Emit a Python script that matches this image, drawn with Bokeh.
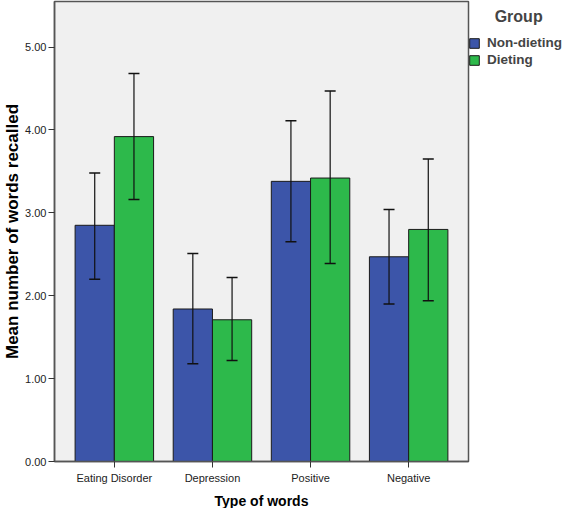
from bokeh.plotting import figure
from bokeh.models import (ColumnDataSource, Whisker, FixedTicker, Legend, LegendItem,
                          Range1d, NumeralTickFormatter)
from bokeh.embed import file_html
from bokeh.resources import INLINE

categories = ["Eating Disorder", "Depression", "Positive", "Negative"]
groups = ["Non-dieting", "Dieting"]
non_dieting_mean = [2.85, 1.84, 3.38, 2.47]
non_dieting_lower = [2.20, 1.18, 2.65, 1.90]
non_dieting_upper = [3.48, 2.51, 4.11, 3.04]
dieting_mean = [3.92, 1.71, 3.42, 2.80]
dieting_lower = [3.16, 1.22, 2.39, 1.94]
dieting_upper = [4.68, 2.22, 4.47, 3.65]
y_ticks = [0, 1, 2, 3, 4, 5]

colors = ["#3C55A9", "#2DB94B"]
offsets = [-0.2, 0.2]
bar_w = 0.4

FONT = "Liberation Sans"

p = figure(frame_width=414, frame_height=460, output_backend="svg", toolbar_location=None,
           x_range=Range1d(-0.61, 3.61), y_range=Range1d(0, 5.55),
           min_border_left=40, min_border_top=1, min_border_bottom=30, min_border_right=5)
p.background_fill_color = "#F0F0F0"
p.border_fill_color = "white"
p.outline_line_color = "#555555"
p.outline_line_width = 1.5
p.xgrid.visible = False
p.ygrid.visible = False

renderers = []
for g, means, lows, ups, col, off in [
        (groups[0], non_dieting_mean, non_dieting_lower, non_dieting_upper, colors[0], offsets[0]),
        (groups[1], dieting_mean, dieting_lower, dieting_upper, colors[1], offsets[1])]:
    src = ColumnDataSource(dict(x=[i + off for i in range(len(categories))], top=means,
                                lower=lows, upper=ups))
    r = p.vbar(x="x", top="top", width=bar_w, bottom=0, source=src, fill_color=col,
               line_color="#1a1a1a", line_width=1)
    renderers.append((g, r))
    w = Whisker(base="x", lower="lower", upper="upper", source=src, line_color="#111111",
                line_width=1.2, level="overlay")
    w.upper_head.size = 11
    w.lower_head.size = 11
    w.upper_head.line_color = "#111111"
    w.lower_head.line_color = "#111111"
    w.upper_head.line_width = 1.5
    w.lower_head.line_width = 1.5
    p.add_layout(w)

# axes
p.xaxis.ticker = FixedTicker(ticks=list(range(len(categories))))
p.xaxis.major_label_overrides = {i: c for i, c in enumerate(categories)}
p.xaxis.axis_label = "Type of words"
p.yaxis.ticker = FixedTicker(ticks=y_ticks)
p.yaxis.formatter = NumeralTickFormatter(format="0.00")
p.yaxis.axis_label = "Mean number of words recalled"
for ax in (p.xaxis, p.yaxis):
    ax.major_label_text_font = FONT
    ax.major_label_text_font_size = "11px"
    ax.major_label_text_color = "#222222"
    ax.axis_label_text_font = FONT
    ax.axis_label_text_font_size = "14px"
    ax.axis_label_text_font_style = "bold"
    ax.axis_label_text_color = "#000000"
    ax.axis_line_color = "#555555"
    ax.axis_line_width = 1.5
    ax.major_tick_line_color = "#333333"
    ax.major_tick_out = 6
    ax.major_tick_in = 0
    ax.minor_tick_line_color = None
p.yaxis.axis_label_text_font_size = "17px"
p.yaxis.axis_label_standoff = 0
p.yaxis.major_label_standoff = 2
p.xaxis.major_label_standoff = 4
p.xaxis.axis_label_standoff = 6

legend = Legend(items=[LegendItem(label=g, renderers=[r]) for g, r in renderers],
                title="\u00a0\u00a0\u00a0\u00a0\u00a0\u00a0Group", location=(0, 394))
legend.title_text_font = FONT
legend.title_text_font_size = "16px"
legend.title_text_font_style = "bold"
legend.title_standoff = 9
legend.label_text_font = FONT
legend.label_text_font_size = "13.5px"
legend.label_text_font_style = "bold"
legend.border_line_color = None
legend.background_fill_alpha = 0
legend.glyph_width = 12
legend.glyph_height = 12
legend.label_standoff = 7
legend.spacing = 2
legend.padding = 4
legend.margin = 0
p.add_layout(legend, "right")

open("out.html", "w").write(file_html(p, INLINE))
